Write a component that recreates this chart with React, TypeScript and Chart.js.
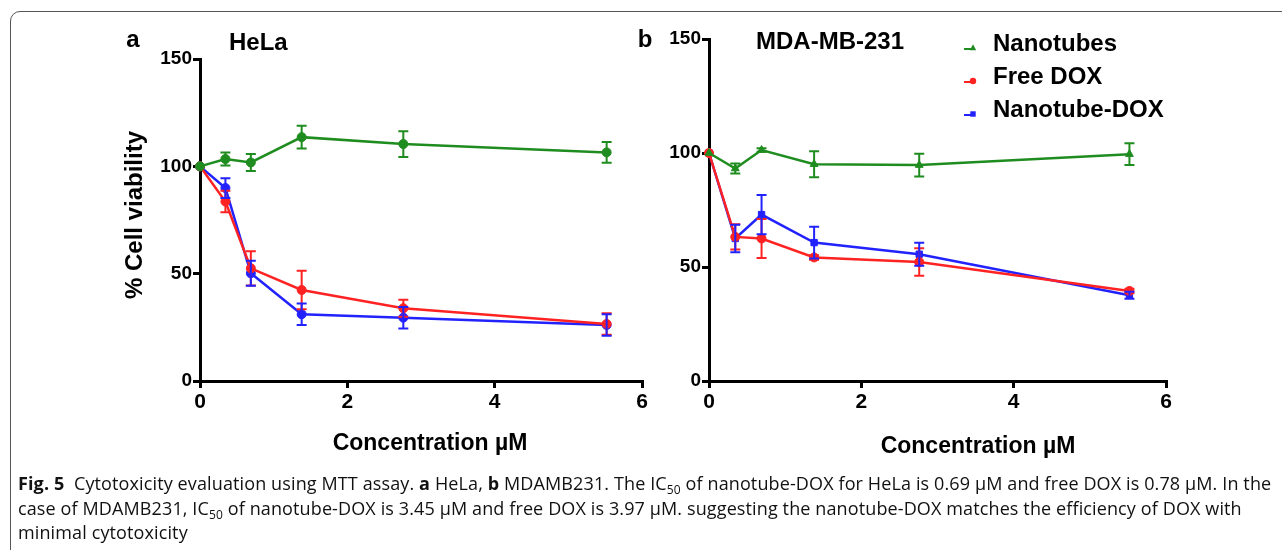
import React, { useEffect, useRef } from 'react';
import { Chart, registerables } from 'chart.js';

Chart.register(...registerables);

// ---------- data ----------
const concentrations = [0, 0.345, 0.69, 1.38, 2.76, 5.52];
const seriesNames = ['Nanotubes', 'Free DOX', 'Nanotube-DOX'];
const xTicks = [0, 2, 4, 6];
const yTicks = [0, 50, 100, 150];

// HeLa (panel a)
const helaNanotubes = [100, 103.4, 101.8, 113.6, 110.4, 106.5];
const helaNanotubesErr = [0, 3, 4, 5.3, 6, 4.8];
const helaFreeDox = [100, 83.6, 52.5, 42.4, 33.9, 26.6];
const helaFreeDoxErr = [0, 5, 8, 9, 4, 5];
const helaNanotubeDox = [100, 89.9, 50.2, 31.1, 29.5, 26.1];
const helaNanotubeDoxErr = [0, 4.6, 5.8, 5, 5, 5];

// MDA-MB-231 (panel b)
const mdaNanotubes = [100, 93.2, 101.3, 95.1, 94.7, 99.5];
const mdaNanotubesErr = [0, 2.2, 0.8, 5.7, 5, 4.8];
const mdaFreeDox = [100, 63.2, 62.5, 54.2, 52.2, 39.5];
const mdaFreeDoxErr = [0, 5.5, 8.5, 1, 6, 1];
const mdaNanotubeDox = [100, 62.5, 73, 60.7, 55.6, 37.6];
const mdaNanotubeDoxErr = [0, 6, 8.6, 7, 5, 1.5];

const colors = ['#1f8c1f', '#ff2222', '#2222ff'];
const FONT = '"Liberation Sans", Arial, sans-serif';

type TextItem = { text: string; x: number; y: number; size: number; align?: CanvasTextAlign; rotate?: number };

function drawMarker(ctx: CanvasRenderingContext2D, style: string, x: number, y: number, r: number) {
  ctx.beginPath();
  if (style === 'triangle') {
    ctx.moveTo(x, y - r * 1.15);
    ctx.lineTo(x + r, y + r * 0.7);
    ctx.lineTo(x - r, y + r * 0.7);
    ctx.closePath();
  } else if (style === 'rect') {
    ctx.rect(x - r * 0.85, y - r * 0.85, r * 1.7, r * 1.7);
  } else {
    ctx.arc(x, y, r, 0, Math.PI * 2);
  }
  ctx.fill();
}

function makeErrorPlugin(errs: number[][]) {
  return {
    id: 'errorBars',
    afterDatasetsDraw(chart: any) {
      const { ctx } = chart;
      const ys = chart.scales.y;
      chart.data.datasets.forEach((ds: any, i: number) => {
        const meta = chart.getDatasetMeta(i);
        ctx.save();
        ctx.strokeStyle = ds.borderColor;
        ctx.lineWidth = 2;
        meta.data.forEach((pt: any, j: number) => {
          const e = errs[i][j];
          if (!e) return;
          const v = ds.data[j].y;
          const yt = ys.getPixelForValue(v + e);
          const yb = ys.getPixelForValue(v - e);
          const x = pt.x;
          ctx.beginPath();
          ctx.moveTo(x, yt);
          ctx.lineTo(x, yb);
          ctx.moveTo(x - 5, yt);
          ctx.lineTo(x + 5, yt);
          ctx.moveTo(x - 5, yb);
          ctx.lineTo(x + 5, yb);
          ctx.stroke();
        });
        ctx.restore();
      });
    },
  };
}

function makeTextPlugin(items: TextItem[], legend: null | { x: number; y0: number; dy: number; styles: string[] }) {
  return {
    id: 'panelTexts',
    afterDraw(chart: any) {
      const ctx: CanvasRenderingContext2D = chart.ctx;
      items.forEach((it) => {
        ctx.save();
        ctx.font = `bold ${it.size}px ${FONT}`;
        ctx.fillStyle = '#000';
        ctx.textAlign = it.align || 'left';
        ctx.textBaseline = 'middle';
        ctx.translate(it.x, it.y);
        if (it.rotate) ctx.rotate(it.rotate);
        ctx.fillText(it.text, 0, 0);
        ctx.restore();
      });
      if (legend) {
        chart.data.datasets.forEach((ds: any, i: number) => {
          const y = legend.y0 + i * legend.dy;
          const mx = legend.x;
          ctx.save();
          ctx.strokeStyle = ds.borderColor;
          ctx.fillStyle = ds.borderColor;
          ctx.lineWidth = 2;
          ctx.beginPath();
          ctx.moveTo(mx - 6, y + 6);
          ctx.lineTo(mx + 4, y + 6);
          ctx.stroke();
          drawMarker(ctx, legend.styles[i], mx + 3, y + 5, 3.2);
          ctx.font = `bold 24px ${FONT}`;
          ctx.fillStyle = '#000';
          ctx.textAlign = 'left';
          ctx.textBaseline = 'middle';
          ctx.fillText(ds.label, mx + 23, y + 1);
          ctx.restore();
        });
      }
    },
  };
}

function buildConfig(
  values: number[][],
  errs: number[][],
  styles: string[],
  pad: { left: number; right: number; top: number },
  items: TextItem[],
  legend: null | { x: number; y0: number; dy: number; styles: string[] }
): any {
  const datasets = values.map((vals, i) => ({
    label: seriesNames[i],
    data: concentrations.map((c, j) => ({ x: c, y: vals[j] })),
    borderColor: colors[i],
    backgroundColor: colors[i],
    pointBackgroundColor: colors[i],
    pointBorderColor: colors[i],
    pointStyle: styles[i],
    pointRadius: 4.5,
    pointBorderWidth: 1,
    borderWidth: 2.5,
    tension: 0,
    clip: false,
  }));
  return {
    type: 'line',
    data: { datasets },
    plugins: [makeErrorPlugin(errs), makeTextPlugin(items, legend)],
    options: {
      animation: false,
      responsive: false,
      layout: { padding: { left: pad.left, right: pad.right, top: pad.top, bottom: 0 } },
      plugins: { legend: { display: false }, tooltip: { enabled: false } },
      scales: {
        x: {
          type: 'linear',
          min: 0,
          max: 6,
          afterBuildTicks: (s: any) => {
            s.ticks = xTicks.map((v) => ({ value: v }));
          },
          afterFit: (s: any) => {
            s.height = 89;
          },
          ticks: { font: { family: FONT, weight: 'bold', size: 21 }, color: '#000', padding: 2, maxRotation: 0 },
          grid: { drawOnChartArea: false, drawTicks: true, tickLength: 7, color: '#000', lineWidth: 3 },
          border: { color: '#000', width: 3 },
        },
        y: {
          type: 'linear',
          min: 0,
          max: 150,
          afterBuildTicks: (s: any) => {
            s.ticks = yTicks.map((v) => ({ value: v }));
          },
          afterFit: (s: any) => {
            s.width = 100;
          },
          ticks: { font: { family: FONT, weight: 'bold', size: 19 }, color: '#000', padding: 1 },
          grid: { drawOnChartArea: false, drawTicks: true, tickLength: 7, color: '#000', lineWidth: 3 },
          border: { color: '#000', width: 3 },
        },
      },
    },
  };
}

function ChartCanvas({ config }: { config: () => any }) {
  const ref = useRef<HTMLCanvasElement | null>(null);
  useEffect(() => {
    if (!ref.current) return;
    const chart = new Chart(ref.current, config());
    return () => chart.destroy();
  }, []);
  return (
    <canvas
      ref={ref}
      width={1282}
      height={470}
      style={{ position: 'absolute', left: 0, top: 0, width: 1282, height: 470 }}
    />
  );
}

const configA = () =>
  buildConfig(
    [helaNanotubes, helaFreeDox, helaNanotubeDox],
    [helaNanotubesErr, helaFreeDoxErr, helaNanotubeDoxErr],
    ['circle', 'circle', 'circle'],
    { left: 100, right: 640, top: 59 },
    [
      { text: 'a', x: 133, y: 40, size: 24, align: 'center' },
      { text: 'HeLa', x: 229, y: 43, size: 24 },
      { text: '% Cell viability', x: 135, y: 215, size: 24, align: 'center', rotate: -Math.PI / 2 },
      { text: 'Concentration µM', x: 430, y: 444, size: 23, align: 'center' },
    ],
    null
  );

const configB = () =>
  buildConfig(
    [mdaNanotubes, mdaFreeDox, mdaNanotubeDox],
    [mdaNanotubesErr, mdaFreeDoxErr, mdaNanotubeDoxErr],
    ['triangle', 'circle', 'rect'],
    { left: 609, right: 116, top: 39 },
    [
      { text: 'b', x: 645, y: 40, size: 24, align: 'center' },
      { text: 'MDA-MB-231', x: 756, y: 42, size: 24 },
      { text: 'Concentration µM', x: 978, y: 447, size: 23, align: 'center' },
    ],
    { x: 970, y0: 43, dy: 33, styles: ['triangle', 'circle', 'rect'] }
  );

const subStyle: React.CSSProperties = { fontSize: 12, lineHeight: 0, verticalAlign: -4 };

export default function App() {
  return (
    <div
      style={{
        position: 'fixed',
        left: 0,
        top: 0,
        width: 1282,
        height: 550,
        overflow: 'hidden',
        background: '#fff',
      }}
    >
      <div
        style={{
          position: 'absolute',
          left: 10,
          top: 11,
          width: 1400,
          height: 700,
          border: '1px solid #555',
          borderRadius: 10,
          boxSizing: 'border-box',
        }}
      />
      <ChartCanvas config={configA} />
      <ChartCanvas config={configB} />
      <div
        style={{
          position: 'absolute',
          left: 18,
          top: 471,
          fontFamily: '"Open Sans", "Noto Sans", sans-serif',
          fontSize: 18,
          letterSpacing: '0.12px',
          lineHeight: '24.5px',
          whiteSpace: 'nowrap',
          color: '#111',
        }}
      >
        <b>Fig. 5</b>&nbsp; Cytotoxicity evaluation using MTT assay. <b>a</b> HeLa, <b>b</b> MDAMB231. The IC
        <span style={subStyle}>50</span> of nanotube-DOX for HeLa is 0.69 µM and free DOX is 0.78 µM. In the
        <br />
        case of MDAMB231, IC<span style={subStyle}>50</span> of nanotube-DOX is 3.45 µM and free DOX is 3.97 µM.
        suggesting the nanotube-DOX matches the efficiency of DOX with
        <br />
        minimal cytotoxicity
      </div>
    </div>
  );
}
